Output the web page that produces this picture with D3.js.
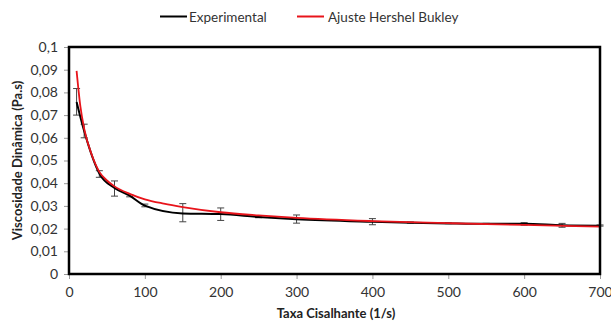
<!DOCTYPE html>
<html><head><meta charset="utf-8">
<script src="https://cdn.jsdelivr.net/npm/d3@7"></script>
<style>body{margin:0;background:#fff}svg{display:block}text{font-family:Lato,"Open Sans",sans-serif}</style>
</head><body><svg id="c" width="611" height="322"></svg>
<script>
const expX   = [10, 20, 40, 60, 80, 100, 150, 200, 250, 300, 400, 450, 500, 550, 600, 650, 700];
const expY   = [0.0758, 0.063, 0.0443, 0.0379, 0.0345, 0.0301, 0.0267, 0.0264, 0.0251, 0.0241, 0.0230, 0.0226, 0.0223, 0.0221, 0.0221, 0.0215, 0.0213];
const errLo  = [0.070, 0.060, 0.0426, 0.0343, 0.0340, 0.0296, 0.0230, 0.0236, 0.0248, 0.0224, 0.0217, 0.0224, 0.0222, 0.0220, 0.0215, 0.0206, 0.0211];
const errHi  = [0.0817, 0.066, 0.0455, 0.0410, 0.0350, 0.0308, 0.0310, 0.0291, 0.0255, 0.0260, 0.0244, 0.0229, 0.0225, 0.0223, 0.0226, 0.0223, 0.0216];
const fitX   = [10, 15, 20, 30, 40, 50, 60, 80, 100, 125, 150, 200, 250, 300, 400, 500, 600, 700];
const fitY   = [0.0895, 0.0738, 0.0640, 0.0525, 0.0450, 0.0412, 0.0386, 0.0353, 0.0329, 0.0310, 0.0295, 0.0272, 0.0258, 0.0247, 0.0233, 0.0224, 0.0216, 0.0209];
const xTicks = [0, 100, 200, 300, 400, 500, 600, 700];
const yTicks = [0, 0.01, 0.02, 0.03, 0.04, 0.05, 0.06, 0.07, 0.08, 0.09, 0.1];
const seriesNames = ["Experimental", "Ajuste Hershel Bukley"];
const seriesColors = ["#000000", "#e8141b"];

const svg = d3.select("#c");
const L = 69, R = 600, T = 47, B = 274;
const x = d3.scaleLinear().domain([0, 700]).range([L, R]);
const y = d3.scaleLinear().domain([0, 0.1]).range([B, T]);
const fmt = v => String(+v.toFixed(2)).replace(".", ",");

// y axis
const ya = svg.append("g").attr("transform", `translate(${L},0)`)
  .call(d3.axisLeft(y).tickValues(yTicks).tickSize(5).tickFormat(fmt));
ya.select(".domain").remove();
ya.selectAll("line").attr("stroke", "#999");
ya.selectAll("text").attr("font-size", 14).attr("fill", "#333").attr("x", -11);

// x axis
const xa = svg.append("g").attr("transform", `translate(0,${B})`)
  .call(d3.axisBottom(x).tickValues(xTicks).tickSize(5).tickFormat(d => d));
xa.select(".domain").remove();
xa.selectAll("line").attr("stroke", "#999");
xa.selectAll("text").attr("font-size", 14).attr("fill", "#333").attr("y", 13);

// error bars
const eg = svg.append("g").attr("stroke", "#444").attr("stroke-width", 1);
expX.forEach((xv, i) => {
  const px = x(xv);
  eg.append("line").attr("x1", px).attr("x2", px).attr("y1", y(errLo[i])).attr("y2", y(errHi[i]));
  eg.append("line").attr("x1", px - 3.5).attr("x2", px + 3.5).attr("y1", y(errLo[i])).attr("y2", y(errLo[i]));
  eg.append("line").attr("x1", px - 3.5).attr("x2", px + 3.5).attr("y1", y(errHi[i])).attr("y2", y(errHi[i]));
});

// lines
const line = d3.line().x(d => x(d[0])).y(d => y(d[1])).curve(d3.curveMonotoneX);
svg.append("path").datum(expX.map((v, i) => [v, expY[i]]))
  .attr("d", line).attr("fill", "none").attr("stroke", seriesColors[0]).attr("stroke-width", 2);
svg.append("path").datum(fitX.map((v, i) => [v, fitY[i]]))
  .attr("d", line).attr("fill", "none").attr("stroke", seriesColors[1]).attr("stroke-width", 1.8);

// frame
svg.append("rect").attr("x", L).attr("y", T).attr("width", R - L).attr("height", B - T)
  .attr("fill", "none").attr("stroke", "#000").attr("stroke-width", 2.5);

// axis titles
svg.append("text").attr("x", 336).attr("y", 318).attr("text-anchor", "middle")
  .attr("font-size", 13).attr("font-weight", "bold").attr("fill", "#222").text("Taxa Cisalhante (1/s)");
svg.append("text").attr("transform", `translate(22,${(T + B) / 2}) rotate(-90)`).attr("text-anchor", "middle")
  .attr("font-size", 13).attr("font-weight", "bold").attr("fill", "#222").text("Viscosidade Dinâmica (Pa.s)");

// legend
const lg = [[160, 189], [297, 328]];
seriesNames.forEach((n, i) => {
  svg.append("line").attr("x1", lg[i][0]).attr("x2", lg[i][0] + 27).attr("y1", 16.5).attr("y2", 16.5)
    .attr("stroke", seriesColors[i]).attr("stroke-width", 2);
  svg.append("text").attr("x", lg[i][1]).attr("y", 21.5).attr("font-size", 13.5).attr("fill", "#333").text(n);
});
</script></body></html>
